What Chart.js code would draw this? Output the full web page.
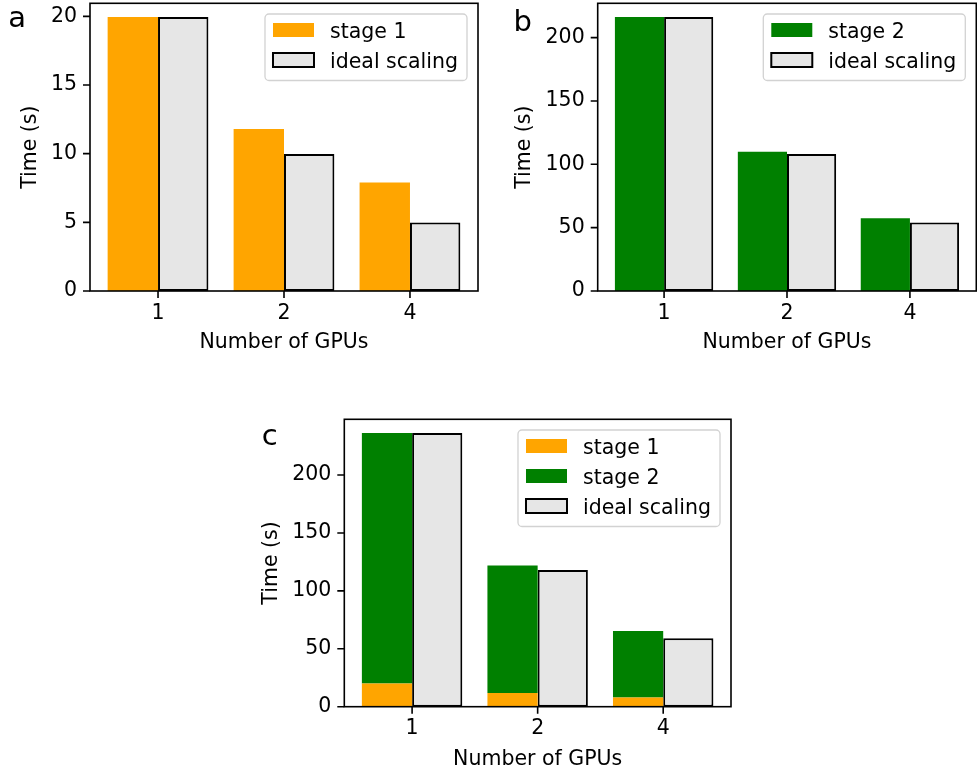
<!DOCTYPE html>
<html>
<head>
<meta charset="utf-8">
<script src="https://cdn.jsdelivr.net/npm/chart.js@4/dist/chart.umd.min.js"></script>
<style>
  html, body { margin: 0; padding: 0; background: #fff; }
  body { width: 977px; height: 772px; position: relative; overflow: hidden; }
  canvas { position: absolute; }
</style>
</head>
<body>
<canvas id="panelA" width="490" height="360" style="left:0px;top:0px"></canvas>
<canvas id="panelB" width="487" height="360" style="left:490px;top:0px"></canvas>
<canvas id="panelC" width="490" height="362" style="left:250px;top:410px"></canvas>
<script>
// GPU counts on the x axis
const gpuLabels = ['1', '2', '4'];

// measured run times (s)
const stage1Times = [19.95, 11.8, 7.9];
const stage2Times = [216.3, 110.0, 57.4];

// ideal scaling references (single-GPU time / number of GPUs)
const idealStage1 = [19.95, 9.97, 4.99];
const idealStage2 = [216.3, 108.2, 54.1];
const idealTotal = [236.3, 118.1, 59.1];

// y tick values per panel
const ticksA = [0, 5, 10, 15, 20];
const ticksB = [0, 50, 100, 150, 200];
const ticksC = [0, 50, 100, 150, 200];

const FONT = "'DejaVu Sans', 'Liberation Sans', sans-serif";
const FS = 20.5;
const TICK_LEN = 7;
const ORANGE = '#ffa500';
const GREEN = '#008000';
const LIGHT = '#e6e6e6';

Chart.defaults.font.family = FONT;
Chart.defaults.font.size = FS;
Chart.defaults.color = '#000';

const points = vals => vals.map((v, i) => ({ x: i, y: v }));

// axes frame on all four sides plus outward tick marks
const frame = {
  id: 'frame',
  afterDatasetsDraw(chart) {
    const { ctx, chartArea: a } = chart;
    ctx.save();
    ctx.lineWidth = 1.6;
    ctx.strokeStyle = '#000';
    ctx.beginPath();
    const sx = chart.scales.x, sy = chart.scales.y;
    sx.ticks.forEach(t => {
      const p = sx.getPixelForValue(t.value);
      ctx.moveTo(p, a.bottom);
      ctx.lineTo(p, a.bottom + TICK_LEN);
    });
    sy.ticks.forEach(t => {
      const p = sy.getPixelForValue(t.value);
      ctx.moveTo(a.left - TICK_LEN, p);
      ctx.lineTo(a.left, p);
    });
    ctx.stroke();
    ctx.strokeRect(a.left, a.top, a.right - a.left, a.bottom - a.top);
    ctx.restore();
  }
};

// legend boxed in the upper right corner of the plot area
const insetLegend = {
  id: 'insetLegend',
  afterDraw(chart) {
    const { ctx, chartArea: a } = chart;
    const items = chart.data.datasets;
    ctx.save();
    ctx.font = `${FS}px ${FONT}`;
    const textW = Math.max(...items.map(d => ctx.measureText(d.label).width));
    const w = 8 + 41 + 16 + textW + 9;
    const h = 16 + 30 * (items.length - 1) + 20.5;
    const right = a.right - 11;
    const top = a.top + 10.7;
    const left = right - w;
    ctx.beginPath();
    ctx.roundRect(left, top, w, h, 4);
    ctx.fillStyle = 'rgba(255,255,255,0.8)';
    ctx.fill();
    ctx.lineWidth = 1.3;
    ctx.strokeStyle = '#d2d2d2';
    ctx.stroke();
    items.forEach((d, i) => {
      const cy = top + 16 + 30 * i;
      const hx = left + 8;
      ctx.fillStyle = d.backgroundColor;
      ctx.fillRect(hx, cy - 7, 41, 14);
      if (d.borderWidth) {
        ctx.lineWidth = d.borderWidth;
        ctx.strokeStyle = d.borderColor;
        ctx.strokeRect(hx, cy - 7, 41, 14);
      }
      ctx.fillStyle = '#000';
      ctx.textAlign = 'left';
      ctx.textBaseline = 'alphabetic';
      ctx.fillText(d.label, hx + 57, cy + 7.5);
    });
    ctx.restore();
  }
};

// panel letter in the corner
const panelLetter = {
  id: 'panelLetter',
  afterDraw(chart, args, opts) {
    const { ctx } = chart;
    ctx.save();
    ctx.font = `29px ${FONT}`;
    ctx.fillStyle = '#000';
    ctx.textAlign = 'left';
    ctx.textBaseline = 'alphabetic';
    ctx.fillText(opts.text, opts.x, opts.y);
    ctx.restore();
  }
};

function makePanel(id, datasets, opt) {
  const el = document.getElementById(id);
  const W = el.width, H = el.height;
  const box = opt.box;
  return new Chart(el, {
    type: 'bar',
    data: { datasets },
    plugins: [frame, insetLegend, panelLetter],
    options: {
      responsive: false,
      animation: false,
      devicePixelRatio: 1,
      layout: { padding: { left: 0, top: box.top, right: W - box.right, bottom: 0 } },
      datasets: { bar: { categoryPercentage: 0.8, barPercentage: 1.0 } },
      plugins: {
        legend: { display: false },
        tooltip: { enabled: false },
        panelLetter: opt.letter
      },
      scales: {
        x: {
          type: 'linear',
          min: -0.54,
          max: 2.54,
          offset: false,
          border: { display: false },
          grid: { display: false, drawTicks: false },
          ticks: { padding: 3 + TICK_LEN, font: { size: FS }, color: '#000', callback: v => gpuLabels[v] },
          title: { display: true, text: 'Number of GPUs', font: { size: FS }, color: '#000', padding: { top: 0, bottom: opt.xTitlePad } },
          afterBuildTicks: s => { s.ticks = gpuLabels.map((_, i) => ({ value: i })); },
          afterFit: s => { s.height = H - box.bottom; s.paddingLeft = 0; s.paddingRight = 0; }
        },
        y: {
          type: 'linear',
          min: 0,
          max: opt.yMax,
          stacked: !!opt.stacked,
          border: { display: false },
          grid: { display: false, drawTicks: false },
          ticks: { padding: 6 + TICK_LEN, font: { size: FS }, color: '#000', callback: v => String(v) },
          title: { display: true, text: 'Time (s)', font: { size: FS }, color: '#000', padding: { top: opt.yTitlePad, bottom: 0 } },
          afterBuildTicks: s => { s.ticks = opt.yTicks.map(v => ({ value: v })); },
          afterFit: s => { s.width = box.left; s.paddingTop = 0; s.paddingBottom = 0; }
        }
      }
    }
  });
}

const idealStyle = { backgroundColor: LIGHT, borderColor: '#000', borderWidth: 2, borderSkipped: false };

makePanel('panelA', [
  { label: 'stage 1', data: points(stage1Times), backgroundColor: ORANGE, borderWidth: 0 },
  Object.assign({ label: 'ideal scaling', data: points(idealStage1) }, idealStyle)
], {
  box: { left: 90, right: 478, top: 3.3, bottom: 291 },
  yMax: 20.95, yTicks: ticksA, yTitlePad: 17.9, xTitlePad: 4.8,
  letter: { text: 'a', x: 8.3, y: 27.2 }
});

makePanel('panelB', [
  { label: 'stage 2', data: points(stage2Times), backgroundColor: GREEN, borderWidth: 0 },
  Object.assign({ label: 'ideal scaling', data: points(idealStage2) }, idealStyle)
], {
  box: { left: 107.7, right: 486.3, top: 3.3, bottom: 291 },
  yMax: 227.1, yTicks: ticksB, yTitlePad: 21.9, xTitlePad: 4.8,
  letter: { text: 'b', x: 23.5, y: 31.4 }
});

makePanel('panelC', [
  { label: 'stage 1', data: points(stage1Times), backgroundColor: ORANGE, borderWidth: 0, stack: 'run' },
  { label: 'stage 2', data: points(stage2Times), backgroundColor: GREEN, borderWidth: 0, stack: 'run' },
  Object.assign({ label: 'ideal scaling', data: points(idealTotal), stack: 'ideal' }, idealStyle)
], {
  box: { left: 94.3, right: 481, top: 9.3, bottom: 296.7 },
  yMax: 248.1, yTicks: ticksC, stacked: true, yTitlePad: 9.6, xTitlePad: 0.1,
  letter: { text: 'c', x: 11.8, y: 35 }
});
</script>
</body>
</html>
